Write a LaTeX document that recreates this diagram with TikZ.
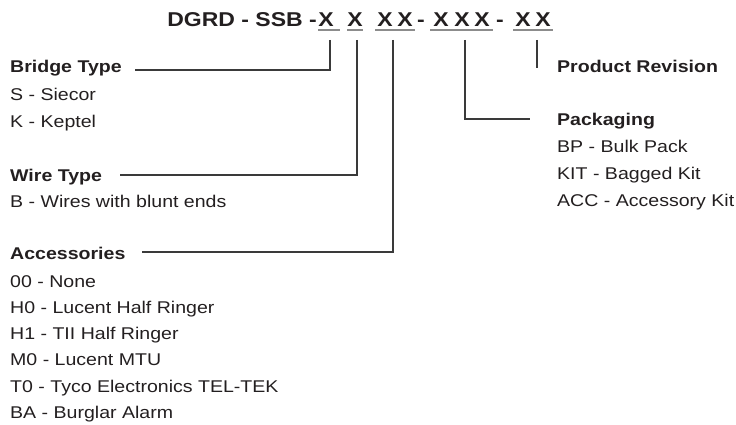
\documentclass[tikz,border=0pt]{standalone}
\usepackage{fontspec}
\setmainfont{Liberation Sans}[FakeStretch=1.15]
\definecolor{ink}{HTML}{231F20}
\definecolor{rule}{HTML}{3A3A3A}
\definecolor{uline}{HTML}{8C8C8C}
\begin{document}
\begin{tikzpicture}[x=1pt,y=-1pt,
  txt/.style={anchor=base west,inner sep=0pt,text=ink,font=\fontsize{17}{19}\selectfont},
  head/.style={txt,font=\fontsize{17}{19}\selectfont\bfseries},
  ttl/.style={anchor=base,inner sep=0pt,text=ink,font=\fontsize{20}{22}\selectfont\bfseries},
  conn/.style={draw=rule,line width=1.1pt},
  ul/.style={draw=uline,line width=1.6pt}]
\useasboundingbox (0,0) rectangle (736,425);
% title
\node[ttl,anchor=base east] (tl) at (317,27) {DGRD - SSB -};
\node[ttl] (x1) at (326,27) {X};
\node[ttl] (x2) at (355,27) {X};
\node[ttl] (x3a) at (385,27) {X};
\node[ttl] (x3b) at (405,27) {X};
\node[ttl] (h1) at (421,27) {-};
\node[ttl] (x4a) at (441,27) {X};
\node[ttl] (x4b) at (462,27) {X};
\node[ttl] (x4c) at (482,27) {X};
\node[ttl] (h2) at (500,27) {-};
\node[ttl] (x5a) at (523,27) {X};
\node[ttl] (x5b) at (543,27) {X};
\draw[ul] (318,30) -- (340,30);
\draw[ul] (347,30) -- (363,30);
\draw[ul] (375,30) -- (415,30);
\draw[ul] (430,30) -- (493,30);
\draw[ul] (513,30) -- (553,30);
% left column
\node[head] (bt) at (10,73) {Bridge Type};
\node[txt] (bt1) at (10,101) {S - Siecor};
\node[txt] (bt2) at (10,128) {K - Keptel};
\node[head] (wt) at (10,181) {Wire Type};
\node[txt] (wt1) at (10,207) {B - Wires with blunt ends};
\node[head] (ac) at (10,259) {Accessories};
\node[txt] (ac1) at (10,287) {00 - None};
\node[txt] (ac2) at (10,313) {H0 - Lucent Half Ringer};
\node[txt] (ac3) at (10,339) {H1 - TII Half Ringer};
\node[txt] (ac4) at (10,365) {M0 - Lucent MTU};
\node[txt] (ac5) at (10,392) {T0 - Tyco Electronics TEL-TEK};
\node[txt] (ac6) at (10,418) {BA - Burglar Alarm};
% right column
\node[head] (pr) at (557,73) {Product Revision};
\node[head] (pk) at (557,126) {Packaging};
\node[txt] (pk1) at (557,153) {BP - Bulk Pack};
\node[txt] (pk2) at (557,179) {KIT - Bagged Kit};
\node[txt] (pk3) at (557,206) {ACC - Accessory Kit};
% connectors
\coordinate (c1) at (330,40);
\coordinate (c2) at (357,40);
\coordinate (c3) at (393,40);
\coordinate (c4) at (465,40);
\coordinate (c5) at (537,40);
\coordinate (e1) at (135,70);
\coordinate (e2) at (120,175);
\coordinate (e3) at (142,252);
\coordinate (e4) at (530,119);
\coordinate (e5) at (537,68);
\draw[conn] (c1) |- (e1);
\draw[conn] (c2) |- (e2);
\draw[conn] (c3) |- (e3);
\draw[conn] (c4) |- (e4);
\draw[conn] (c5) -- (e5);
\end{tikzpicture}
\end{document}
